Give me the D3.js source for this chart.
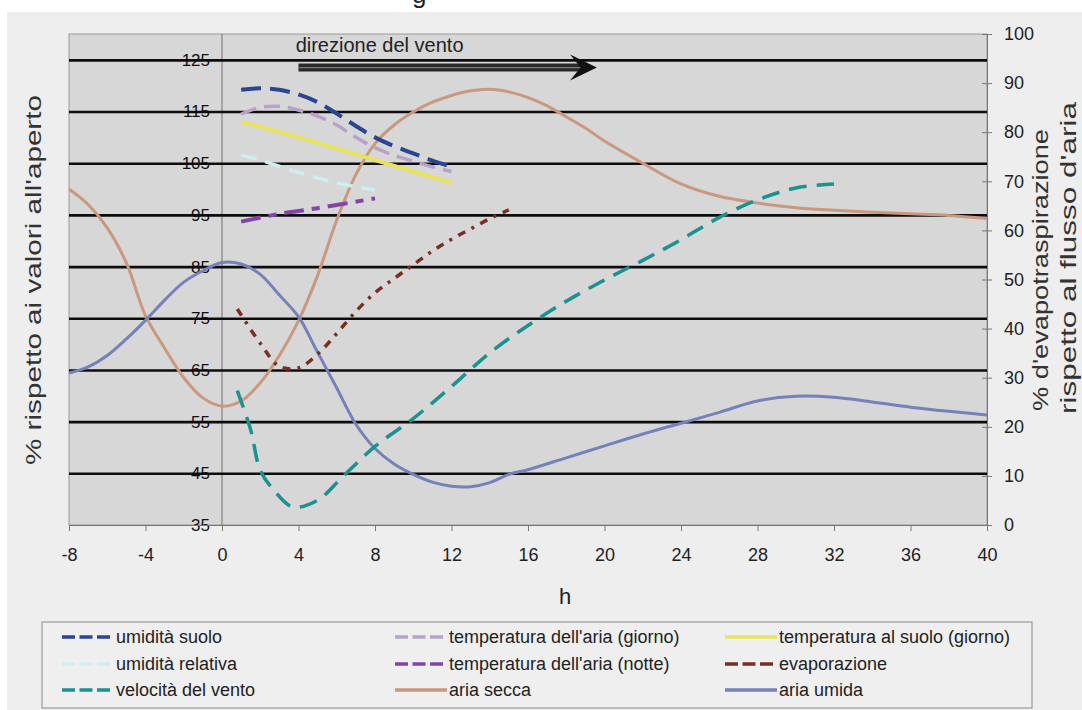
<!DOCTYPE html>
<html><head><meta charset="utf-8">
<script src="https://cdn.jsdelivr.net/npm/d3@7"></script>
<style>body{margin:0;background:#fff;}svg{display:block;font-family:"Liberation Sans",Arial,sans-serif;}</style>
</head><body>
<svg id="c" width="1082" height="710"></svg>
<script>
// ---- data ----
const xTicks = [-8,-4,0,4,8,12,16,20,24,28,32,36,40];
const leftTicks = [35,45,55,65,75,85,95,105,115,125];
const gridValues = [45,55,65,75,85,95,105,115,125];
const rightTicks = [0,10,20,30,40,50,60,70,80,90,100];

const hUmiditaSuolo = [1,2,3,4,5,6,7,8,9,10,11,12];
const umiditaSuolo  = [119.2,119.5,119.2,118.3,116.8,114.6,112.2,110,108.3,106.9,105.5,104.3];
const hTempAriaGiorno = [1,2,3,4,5,6,7,8,9,10,11,12];
const tempAriaGiorno  = [114.5,115.8,116,115.3,114.1,112.4,110,108,106.5,105.4,104.3,103.4];
const hTempSuoloGiorno = [1,4,8,12];
const tempSuoloGiorno  = [113,110,105.6,101.2];
const hUmiditaRelativa = [1,2,4,6,8];
const umiditaRelativa  = [106.6,105.6,103.2,101.2,99.8];
const hTempAriaNotte = [1,3,5,8];
const tempAriaNotte  = [93.7,95.2,96.3,98.2];
const hEvaporazione = [0.8,2,3,4,5,6,7,8,9,10,11,12,13,14,15];
const evaporazione  = [44,37,32.3,32,34.8,39,43.5,47.3,50.2,53,55.8,58.2,60.3,62.4,64.2];
const hVelocitaVento = [0.8,1.5,2,2.7,3.7,5,6.3,8,10,12,14,16,18,20,22,24,26,28,30,32];
const velocitaVento  = [61,53.4,45.6,41.8,38.5,39.8,44.3,50.2,55.6,61.8,68.3,73.6,78.3,82.4,86.2,90.2,94.5,97.9,100.2,101];
const hAriaSecca = [-8,-7,-6,-5,-4,-3,-2,-1,0,1,2,3,4,5,6,7,8,9,10,11,12,13,14,15,16,17,18,19,20,22,24,26,28,30,32,34,36,38,40];
const ariaSecca  = [100,97,92.5,85.7,75.5,69.2,63.5,59.6,58,59,62.5,67.8,74.5,83.3,94,102.8,108.8,112.4,114.9,116.8,118.1,119,119.3,118.8,117.7,116.1,114,111.8,109.3,105,101,98.6,97.3,96.4,95.9,95.5,95.2,94.9,94.3];
const hAriaUmida = [-8,-7,-6,-5,-4,-3,-2,-1,0,1,2,3,4,5,6,7,8,9,10,11,12,13,14,15,16,18,20,22,24,26,28,30,32,34,36,38,40];
const ariaUmida  = [64.4,65.6,67.8,71,74.6,78.5,82,84.2,85.8,85.5,83.5,79.5,75.3,68.4,61.5,54.5,49.8,46.8,44.8,43.3,42.5,42.4,43.2,44.8,45.7,48,50.3,52.6,54.7,56.8,59,59.9,59.7,58.8,57.8,57,56.3];

const seriesNames = ["umidità suolo","temperatura dell'aria (giorno)","temperatura al suolo (giorno)",
  "umidità relativa","temperatura dell'aria (notte)","evaporazione",
  "velocità del vento","aria secca","aria umida"];

// ---- layout ----
const svg = d3.select("#c");
const P = {l:69, r:987, t:34, b:525};
const x = d3.scaleLinear([-8,40],[P.l,P.r]);
const yL = d3.scaleLinear([35,130],[P.b,P.t]);
const yR = d3.scaleLinear([0,100],[P.b,P.t]);

const series = [
  {name:seriesNames[7], h:hAriaSecca, v:ariaSecca, y:yL, color:"#c9987e", w:3, dash:null},
  {name:seriesNames[8], h:hAriaUmida, v:ariaUmida, y:yL, color:"#7581b9", w:3, dash:null},
  {name:seriesNames[3], h:hUmiditaRelativa, v:umiditaRelativa, y:yL, color:"#cdeff0", w:3.5, dash:"16,9"},
  {name:seriesNames[4], h:hTempAriaNotte, v:tempAriaNotte, y:yL, color:"#8444a6", w:4, dash:"20,8,8,8"},
  {name:seriesNames[2], h:hTempSuoloGiorno, v:tempSuoloGiorno, y:yL, color:"#e8e35c", w:4, dash:null},
  {name:seriesNames[1], h:hTempAriaGiorno, v:tempAriaGiorno, y:yL, color:"#b9a2c9", w:3.5, dash:"16,8"},
  {name:seriesNames[0], h:hUmiditaSuolo, v:umiditaSuolo, y:yL, color:"#2a4592", w:4, dash:"20,9"},
  {name:seriesNames[5], h:hEvaporazione, v:evaporazione, y:yR, color:"#7a2e22", w:3.5, dash:"8,7,3,7"},
  {name:seriesNames[6], h:hVelocitaVento, v:velocitaVento, y:yL, color:"#1b9191", w:3.5, dash:"18,10"}
];

// background panel
svg.append("rect").attr("x",7).attr("y",12).attr("width",1075).attr("height",698).attr("fill","#eeeeee");
// fragment of cut title
svg.append("text").attr("x",412).attr("y",3).attr("font-size",26).attr("fill","#222").text("g");

// plot area
svg.append("rect").attr("x",P.l).attr("y",P.t).attr("width",P.r-P.l).attr("height",P.b-P.t)
  .attr("fill","#d7d7d7").attr("stroke","#9a9a9a").attr("stroke-width",1);

// vertical line at 0
svg.append("line").attr("x1",x(0)).attr("x2",x(0)).attr("y1",P.t).attr("y2",P.b).attr("stroke","#707070").attr("stroke-width",1);

// left-axis labels inside plot
const gl = svg.append("g").attr("transform",`translate(${x(0)-12},0)`)
  .call(d3.axisLeft(yL).tickValues(leftTicks).tickSize(0).tickPadding(0).tickFormat(d=>String(d)));
gl.select(".domain").remove();
gl.attr("font-size",17).attr("font-family","Liberation Sans, Arial, sans-serif");
gl.selectAll("text").attr("fill","#111").attr("font-size",17);

// black gridlines
const gg = svg.append("g").attr("transform",`translate(${P.l},0)`)
  .call(d3.axisLeft(yL).tickValues(gridValues).tickSize(-(P.r-P.l)).tickFormat(""));
gg.select(".domain").remove();
gg.selectAll("line").attr("stroke","#0d0d0d").attr("stroke-width",2.6);

// bottom axis
const gx = svg.append("g").attr("transform",`translate(0,${P.b})`)
  .call(d3.axisBottom(x).tickValues(xTicks).tickSize(6).tickPadding(17).tickFormat(d=>String(d)));
gx.attr("font-size",18).attr("font-family","Liberation Sans, Arial, sans-serif");
gx.select(".domain").attr("stroke","#777");
gx.selectAll("line").attr("stroke","#777");
gx.selectAll("text").attr("fill","#222");

// right axis
const gr = svg.append("g").attr("transform",`translate(${P.r},0)`)
  .call(d3.axisRight(yR).tickValues(rightTicks).tickSizeInner(5).tickSizeOuter(0).tickPadding(12).tickFormat(d=>String(d)));
gr.attr("font-size",18).attr("font-family","Liberation Sans, Arial, sans-serif");
gr.select(".domain").attr("stroke","#777");
gr.selectAll(".tick line").attr("x1",-5).attr("stroke","#777");
gr.selectAll("text").attr("fill","#222");

// series
const line = d3.line().curve(d3.curveCatmullRom.alpha(0.5));
series.forEach(s=>{
  const pts = s.h.map((h,i)=>[x(h), s.y(s.v[i])]);
  svg.append("path").attr("d",line(pts)).attr("fill","none").attr("stroke",s.color)
    .attr("stroke-width",s.w).attr("stroke-dasharray",s.dash).attr("stroke-linecap","butt");
});

// wind direction arrow
const ay = yL(123.5);
svg.append("line").attr("x1",x(4)).attr("x2",x(18.8)).attr("y1",ay).attr("y2",ay).attr("stroke","#2a2a2a").attr("stroke-width",8);
svg.append("line").attr("x1",x(4)).attr("x2",x(18.8)).attr("y1",ay).attr("y2",ay).attr("stroke","#7a7a7a").attr("stroke-width",1.2);
svg.append("path").attr("d",`M${x(19.6)},${ay} L${x(18.2)},${ay-13} L${x(18.75)},${ay} L${x(18.2)},${ay+13} Z`).attr("fill","#111");
svg.append("text").attr("x",x(3.85)).attr("y",yL(126.5)).attr("font-size",20).attr("fill","#222").text("direzione del vento");

// axis titles
svg.append("text").attr("transform",`translate(41,280) rotate(-90)`).attr("text-anchor","middle")
  .attr("font-size",22).attr("fill","#333").attr("textLength",370).attr("lengthAdjust","spacingAndGlyphs")
  .text("% rispetto ai valori all'aperto");
svg.append("text").attr("transform",`translate(565,604)`).attr("text-anchor","middle")
  .attr("font-size",22).attr("fill","#222").text("h");
svg.append("text").attr("transform",`translate(1048,270) rotate(-90)`).attr("text-anchor","middle")
  .attr("font-size",22).attr("fill","#333").attr("textLength",282).attr("lengthAdjust","spacingAndGlyphs")
  .text("% d'evapotraspirazione");
svg.append("text").attr("transform",`translate(1076,258) rotate(-90)`).attr("text-anchor","middle")
  .attr("font-size",22).attr("fill","#333").attr("textLength",312).attr("lengthAdjust","spacingAndGlyphs")
  .text("rispetto al flusso d'aria");

// legend
svg.append("rect").attr("x",42).attr("y",622).attr("width",990).attr("height",86).attr("fill","#efefef").attr("stroke","#8a8a8a");
const legOrder = [6,5,4,2,3,7,8,0,1]; // indexes into series in legend order (row-major)
const colX = [62,395,725], rowY = [637,664,690];
legOrder.forEach((si,i)=>{
  const s = series[si], cx = colX[i%3], cy = rowY[Math.floor(i/3)];
  svg.append("line").attr("x1",cx).attr("x2",cx+52).attr("y1",cy).attr("y2",cy).attr("stroke",s.color)
    .attr("stroke-width",3.5).attr("stroke-dasharray",s.dash? "13,4.5":null);
  svg.append("text").attr("x",cx+54).attr("y",cy+6).attr("font-size",18).attr("fill","#222").text(s.name);
});
</script>
</body></html>
